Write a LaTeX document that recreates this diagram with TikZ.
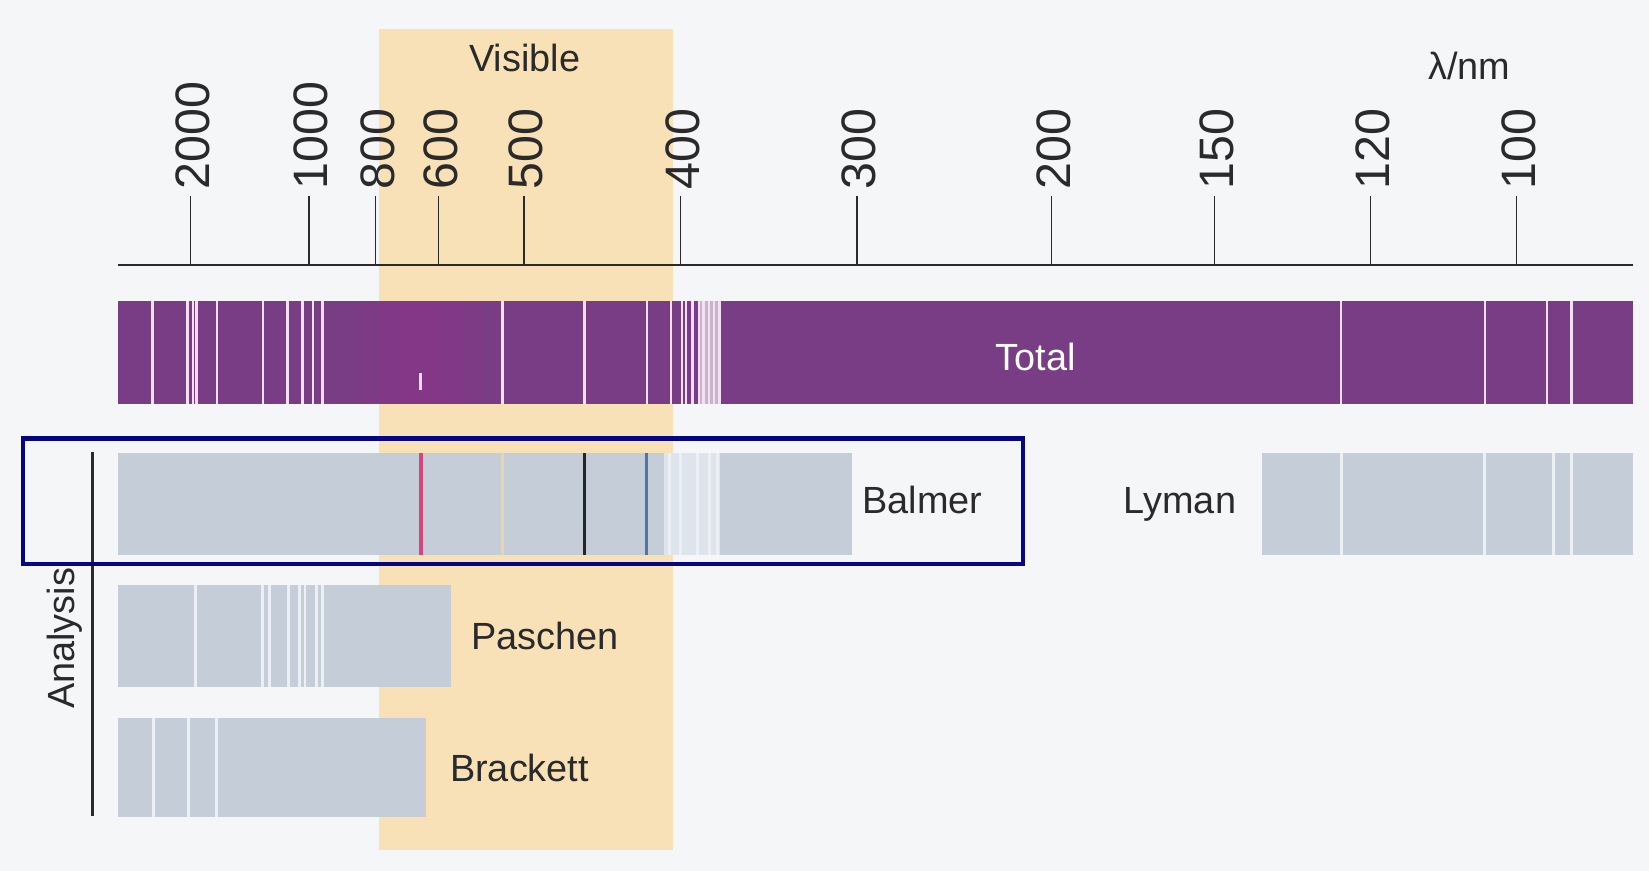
\documentclass[tikz,border=0pt]{standalone}
\usepackage{fontspec}
\setmainfont{Liberation Sans}
\definecolor{bg}{RGB}{245,246,247}
\definecolor{visband}{RGB}{248,224,183}
\definecolor{totalpurple}{RGB}{120,61,133}
\definecolor{glowpurple}{RGB}{150,50,140}
\definecolor{emwhite}{RGB}{244,224,242}
\definecolor{densegray}{RGB}{196,182,200}
\definecolor{seriesgray}{RGB}{197,206,216}
\definecolor{serieslight}{RGB}{222,228,235}
\definecolor{serieswhite}{RGB}{236,240,245}
\definecolor{frameblue}{RGB}{6,6,132}
\definecolor{ink}{RGB}{42,42,42}
\definecolor{halpha}{RGB}{214,68,122}
\definecolor{hbeta}{RGB}{232,214,170}
\definecolor{hgamma}{RGB}{78,118,165}
\begin{document}
\begin{tikzpicture}[x=1pt,y=-1pt,
  lbl/.style={font=\fontsize{36}{40}\selectfont, text=ink, inner sep=0pt},
  ticklbl/.style={font=\fontsize{46}{50}\selectfont, text=ink, inner sep=0pt,
                  rotate=90, anchor=west},
  axisline/.style={draw=ink, line width=2pt},
  tickline/.style={draw=ink, line width=1.5pt},
  emline/.style={draw=emwhite, line width=2.4pt},
  absline/.style={draw=serieswhite, line width=2.8pt},
]
% canvas
\fill[bg] (0,0) rectangle (1568,828);
\useasboundingbox (0,0) rectangle (1568,828);

% visible region
\fill[visband] (360,28) rectangle (640,808);
\node[lbl, anchor=base] (visible) at (499,68) {Visible};

% wavelength axis
\draw[axisline] (112,252) -- (1553,252);
\foreach \x/\l in {181/2000, 294/1000, 357/800, 417/600, 498/500, 647/400,
                   815/300, 1000/200, 1155/150, 1303/120, 1442/100} {
  \draw[tickline] (\x,186) -- (\x,252);
  \node[ticklbl] (tick\l) at (\x+2,180) {\l};
}
\node[lbl, anchor=base] (unit) at (1397,76) {λ/nm};

% total emission spectrum, with a faint red glow near H-alpha
\fill[totalpurple] (112,286) rectangle (1553,384);
\foreach \a/\b in {340/460, 360/440, 380/420}
  \fill[glowpurple, opacity=0.18] (\a,286) rectangle (\b,384);
\fill[densegray] (666,286) rectangle (684,384);
\foreach \x in {145,178.5,183.5,187,206.5,250,273.5,287.5,297.5,306.5,
                478,556,615,638,648.5,652.5,658.5,664.5,669,674,679,684,
                1275,1412,1471,1494.5}
  \draw[emline] (\x,286) -- (\x,384);
\draw[emline] (400,355) -- (400,371);
\node[lbl, anchor=base, text=white] (total) at (985,352) {Total};

% Balmer series
\fill[seriesgray] (112,431) rectangle (810,528);
\fill[serieslight] (631,431) rectangle (685,528);
\foreach \x in {637,647,663,675,682}
  \draw[absline] (\x,431) -- (\x,528);
\draw[halpha, line width=3.5pt] (400,431) -- (400,528);
\draw[hbeta, line width=3pt] (478,431) -- (478,528);
\draw[black!85, line width=2.5pt] (556,431) -- (556,528);
\draw[hgamma, line width=2.5pt] (615,431) -- (615,528);
\node[lbl, anchor=base] (balmer) at (877,488) {Balmer};

% Lyman series
\fill[seriesgray] (1200,431) rectangle (1553,528);
\foreach \x in {1275.5,1412,1477,1494}
  \draw[absline] (\x,431) -- (\x,528);
\node[lbl, anchor=base] (lyman) at (1122,488) {Lyman};

% Paschen series
\fill[seriesgray] (112,556) rectangle (429,653);
\foreach \x in {185.5,250,256.5,274,285,290,301,307}
  \draw[absline] (\x,556) -- (\x,653);
\node[lbl, anchor=base] (paschen) at (518,618) {Paschen};

% Brackett series
\fill[seriesgray] (112,683) rectangle (405,777);
\foreach \x in {146,179,206}
  \draw[absline] (\x,683) -- (\x,777);
\node[lbl, anchor=base] (brackett) at (494,743) {Brackett};

% analysis bracket
\draw[axisline] (88,430) -- (88,776);
\node[lbl, rotate=90, anchor=base] (analysis) at (71,607) {Analysis};

% highlight frame round the Balmer row
\draw[frameblue, line width=4pt] (22,417) rectangle (973,536);
\end{tikzpicture}
\end{document}
